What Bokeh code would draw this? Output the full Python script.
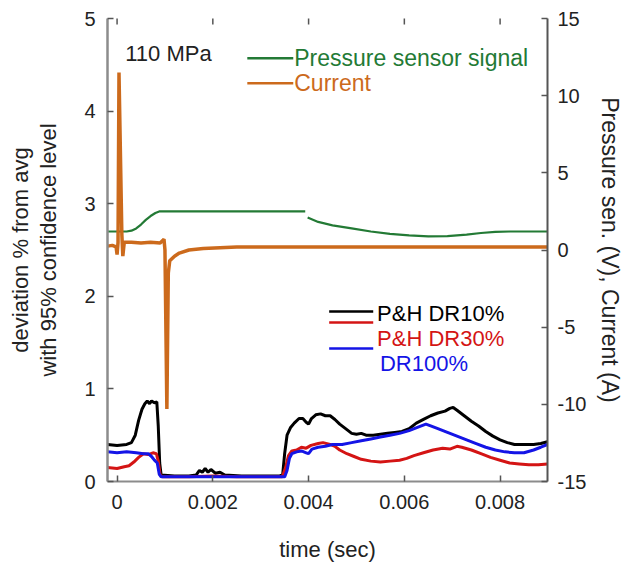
import math
from bokeh.plotting import figure
from bokeh.models import Range1d, LinearAxis, Label, FixedTicker
from bokeh.embed import file_html
from bokeh.resources import INLINE

MS = 1e-3
FONT = "Liberation Sans"

# ---- data (time in ms, converted to s) ----
black_t = [-0.2, 0.0, 0.2, 0.3, 0.38, 0.45, 0.52, 0.58, 0.63, 0.68, 0.72, 0.78, 0.83, 0.86, 0.89, 0.92,
           1.2, 1.5, 1.65, 1.72, 1.78, 1.84, 1.9, 1.96, 2.05, 2.15, 2.25, 2.6, 3.0, 3.4, 3.46, 3.5, 3.55,
           3.62, 3.7, 3.8, 3.88, 3.95, 4.0, 4.06, 4.15, 4.25, 4.35, 4.45, 4.55, 4.65, 4.8, 4.9, 5.0, 5.1,
           5.2, 5.35, 5.5, 5.65, 5.8, 5.95, 6.1, 6.25, 6.4, 6.55, 6.7, 6.85, 6.95, 7.02, 7.1, 7.25, 7.4,
           7.55, 7.7, 7.85, 8.0, 8.15, 8.3, 8.5, 8.7, 8.85, 8.99]
black_v = [0.40, 0.39, 0.40, 0.42, 0.50, 0.66, 0.78, 0.84, 0.87, 0.84, 0.87, 0.85, 0.86, 0.60, 0.20, 0.07,
           0.06, 0.06, 0.07, 0.12, 0.10, 0.14, 0.10, 0.13, 0.09, 0.10, 0.07, 0.06, 0.06, 0.06, 0.08, 0.30, 0.50,
           0.58, 0.63, 0.68, 0.68, 0.64, 0.62, 0.68, 0.72, 0.73, 0.71, 0.71, 0.67, 0.62, 0.56, 0.52, 0.51, 0.52,
           0.50, 0.50, 0.51, 0.52, 0.53, 0.54, 0.57, 0.63, 0.67, 0.71, 0.74, 0.76, 0.79, 0.80, 0.77, 0.71, 0.65,
           0.60, 0.54, 0.49, 0.45, 0.42, 0.40, 0.40, 0.40, 0.41, 0.43]

red_t = [-0.2, 0.0, 0.15, 0.25, 0.35, 0.45, 0.55, 0.65, 0.75, 0.82, 0.86, 0.9, 0.95, 1.5, 2.0, 2.5, 3.0,
         3.45, 3.52, 3.58, 3.65, 3.75, 3.85, 3.95, 4.05, 4.2, 4.3, 4.45, 4.55, 4.65, 4.8, 4.95, 5.1, 5.3,
         5.5, 5.7, 5.9, 6.05, 6.2, 6.4, 6.6, 6.8, 6.95, 7.1, 7.2, 7.4, 7.6, 7.8, 8.0, 8.2, 8.4, 8.6, 8.8, 8.99]
red_v = [0.15, 0.14, 0.16, 0.17, 0.21, 0.26, 0.30, 0.29, 0.31, 0.30, 0.22, 0.07, 0.05, 0.05, 0.06, 0.05, 0.05,
         0.05, 0.15, 0.28, 0.33, 0.34, 0.37, 0.36, 0.39, 0.41, 0.42, 0.40, 0.38, 0.34, 0.30, 0.27, 0.24, 0.22,
         0.21, 0.22, 0.23, 0.25, 0.28, 0.31, 0.34, 0.36, 0.35, 0.38, 0.37, 0.34, 0.30, 0.26, 0.23, 0.20, 0.19,
         0.18, 0.18, 0.19]

blue_t = [-0.2, 0.0, 0.2, 0.4, 0.55, 0.65, 0.72, 0.78, 0.84, 0.88, 0.92, 1.5, 2.0, 2.5, 3.0, 3.5, 3.55, 3.6,
          3.65, 3.75, 3.85, 3.95, 4.0, 4.07, 4.2, 4.35, 4.5, 4.7, 4.9, 5.1, 5.3, 5.5, 5.7, 5.9, 6.1, 6.3, 6.45,
          6.55, 6.7, 6.9, 7.1, 7.3, 7.5, 7.7, 7.9, 8.1, 8.3, 8.5, 8.7, 8.85, 8.99]
blue_v = [0.32, 0.31, 0.32, 0.31, 0.30, 0.30, 0.27, 0.23, 0.20, 0.08, 0.05, 0.05, 0.05, 0.05, 0.05, 0.05, 0.12,
          0.25, 0.30, 0.32, 0.33, 0.31, 0.30, 0.35, 0.37, 0.38, 0.40, 0.40, 0.42, 0.44, 0.46, 0.48, 0.50, 0.52,
          0.55, 0.59, 0.62, 0.60, 0.57, 0.53, 0.49, 0.45, 0.41, 0.37, 0.34, 0.32, 0.31, 0.31, 0.34, 0.37, 0.40]

green_t = [-0.2, 0.0, 0.2, 0.3, 0.4, 0.5, 0.6, 0.7, 0.8, 0.88, 1.5, 2.5, 3.5, 3.93, float("nan"), 3.98, 4.2,
           4.5, 4.9, 5.3, 5.7, 6.1, 6.5, 6.9, 7.3, 7.6, 7.9, 8.2, 8.99]
green_v = [1.2, 1.2, 1.2, 1.25, 1.4, 1.65, 1.95, 2.2, 2.4, 2.5, 2.5, 2.5, 2.5, 2.5, float("nan"), 2.1, 1.82,
           1.6, 1.4, 1.2, 1.05, 0.95, 0.88, 0.9, 1.0, 1.1, 1.17, 1.2, 1.2]

current_t = [-0.2, -0.1, -0.02, 0.0, 0.02, 0.04, 0.1, 0.12, 0.15, 0.3, 0.5, 0.7, 0.9, 0.98, 1.0, 1.04,
             1.07, 1.1, 1.2, 1.3, 1.5, 1.8, 2.5, 3.5, 4.5, 5.5, 6.5, 7.5, 8.99]
current_v = [0.25, 0.3, 0.2, -0.3, 0.5, 11.5, 1.0, -0.4, 0.5, 0.5, 0.45, 0.5, 0.45, 0.7, 0.0, -10.3,
             -1.5, -0.7, -0.4, -0.2, 0.0, 0.1, 0.2, 0.2, 0.2, 0.2, 0.2, 0.2, 0.2]

x_ticks = [0.0, 0.002, 0.004, 0.006, 0.008]
x_tick_labels = ["0", "0.002", "0.004", "0.006", "0.008"]
left_ticks = [0, 1, 2, 3, 4, 5]
right_ticks = [-15, -10, -5, 0, 5, 10, 15]
right_tick_labels = ["-15", "-10", "-5", "0", "5", "10", "15"]

GREEN = "#237a35"
ORANGE = "#cc6a1c"
BLACK = "#000000"
RED = "#d41414"
BLUE = "#1414e6"
TXT = "#222222"

p = figure(width=627, height=565, output_backend="svg", toolbar_location=None,
           x_range=Range1d(-0.0002, 0.00899), y_range=Range1d(0, 5),
           min_border_left=107, min_border_right=80, min_border_top=18, min_border_bottom=84)
p.extra_y_ranges = {"right": Range1d(-15, 15)}
p.xgrid.visible = False
p.ygrid.visible = False
p.outline_line_color = None
p.background_fill_color = "white"
p.border_fill_color = "white"

def style(ax, line_color, line_width):
    ax.axis_line_color = line_color
    ax.axis_line_width = line_width
    ax.major_tick_in = 6
    ax.major_tick_out = 0
    ax.major_tick_line_color = "#555555"
    ax.major_tick_line_width = 1.5
    ax.minor_tick_line_color = None
    ax.major_label_text_font = FONT
    ax.major_label_text_font_size = "20px"
    ax.major_label_text_color = TXT
    ax.axis_label_text_font = FONT
    ax.axis_label_text_font_size = "22px"
    ax.axis_label_text_font_style = "normal"
    ax.axis_label_text_color = TXT

xa = p.xaxis[0]
style(xa, "#8c8c8c", 2)
xa.ticker = FixedTicker(ticks=x_ticks)
xa.major_label_overrides = dict(zip(x_ticks, x_tick_labels))
xa.major_label_standoff = 13
xa.axis_label = "time (sec)"
xa.axis_label_standoff = 25
xa.axis_label_text_line_height = 1.0

ya = p.yaxis[0]
style(ya, "#8c8c8c", 2.5)
ya.ticker = FixedTicker(ticks=left_ticks)
ya.major_label_standoff = 12
ya.axis_label = "deviation % from avg\nwith 95% confidence level"
ya.axis_label_standoff = 20
ya.axis_label_text_line_height = 1.15

ra = LinearAxis(y_range_name="right")
style(ra, "#555555", 2)
ra.ticker = FixedTicker(ticks=right_ticks)
ra.major_label_overrides = dict(zip(right_ticks, right_tick_labels))
ra.major_label_standoff = 10
ra.axis_label = "Pressure sen. (V), Current (A)"
ra.axis_label_text_font_size = "23px"
ra.axis_label_text_line_height = 0.9
ra.axis_label_standoff = 8
p.add_layout(ra, "right")

# inward tick marks along the top edge (no axis line there)
p.scatter(x_ticks, [5] * len(x_ticks), marker="dash", angle=math.pi / 2, size=12,
          line_color="#555555", line_width=1.5)

def secs(ts):
    return [t * MS for t in ts]

p.line(secs(green_t), green_v, y_range_name="right", line_color=GREEN, line_width=2.2)
p.line(secs(current_t), current_v, y_range_name="right", line_color=ORANGE, line_width=3.5)
p.line(secs(black_t), black_v, line_color=BLACK, line_width=3)
p.line(secs(red_t), red_v, line_color=RED, line_width=3)
p.line(secs(blue_t), blue_v, line_color=BLUE, line_width=3)

# ---- annotations (legend entries and label) ----
def add_label(x, y, text, color, size="22px"):
    p.add_layout(Label(x=x * MS, y=y, text=text, text_font=FONT, text_font_size=size,
                       text_color=color, text_baseline="middle", text_align="left"))

add_label(0.17, 4.62, "110 MPa", TXT)

leg1 = [("Pressure sensor signal", GREEN, 4.57, 4.57), ("Current", ORANGE, 4.30, 4.30)]
for text, color, ly, ty in leg1:
    p.line([2.72 * MS, 3.68 * MS], [ly, ly], line_color=color, line_width=2.5)
    add_label(3.70, ty, text, color, size="23px")

leg2 = [("P&H DR10%", BLACK, 1.836, 1.81, 5.43), ("P&H DR30%", RED, 1.717, 1.544, 5.43),
        ("DR100%", BLUE, 1.436, 1.274, 5.49)]
for text, color, ly, ty, tx in leg2:
    p.line([4.43 * MS, 5.35 * MS], [ly, ly], line_color=color, line_width=2.5)
    add_label(tx, ty, text, color)

open("out.html", "w").write(file_html(p, INLINE))
